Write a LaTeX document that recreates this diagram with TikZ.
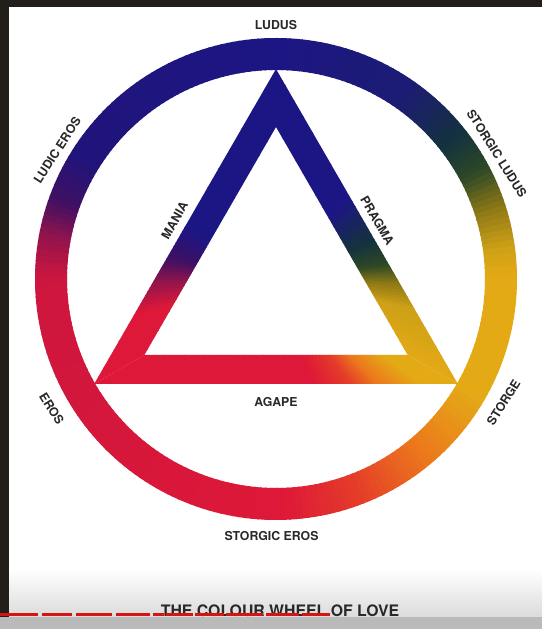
\documentclass[tikz,border=0pt]{standalone}
\usepackage{fontspec}
\setmainfont{TeX Gyre Heros}
\usetikzlibrary{calc,positioning}
\definecolor{ink}{RGB}{40,40,40}
\definecolor{edge}{RGB}{34,30,26}
\definecolor{ytred}{RGB}{214,20,20}
\definecolor{wblue}{RGB}{28,22,132}
\definecolor{wblueb}{RGB}{28,28,115}
\definecolor{wteal}{RGB}{20,50,62}
\definecolor{wgreen}{RGB}{45,72,38}
\definecolor{wolive}{RGB}{140,120,22}
\definecolor{wgold}{RGB}{205,160,22}
\definecolor{wyellow}{RGB}{228,170,22}
\definecolor{worange}{RGB}{236,120,28}
\definecolor{wredb}{RGB}{228,58,42}
\definecolor{wred}{RGB}{222,24,56}
\definecolor{wcrimson}{RGB}{205,22,62}
\definecolor{wplum}{RGB}{150,20,75}
\definecolor{wviolet}{RGB}{62,16,100}
\definecolor{wnavy}{RGB}{32,20,122}
% one side of the triangle, cut into slices: outer from/to, inner from/to, colour stops
\newcommand{\triband}[5]{%
  \foreach \sa/\sb/\ca/\cb in {#5}{%
    \foreach \i in {1,...,8}{%
      \pgfmathsetmacro\sfrom{\sa+(\sb-\sa)*(\i-1)/8}%
      \pgfmathsetmacro\sto{min(\sa+(\sb-\sa)*\i/8+0.004,1)}%
      \pgfmathtruncatemacro\pc{100*(\i-0.5)/8}%
      \fill[color=\cb!\pc!\ca] ($(#1)!\sfrom!(#2)$) -- ($(#1)!\sto!(#2)$) -- ($(#3)!\sto!(#4)$) -- ($(#3)!\sfrom!(#4)$) -- cycle;
    }}}

\begin{document}
\begin{tikzpicture}[x=0.03cm,y=0.03cm,
  lbl/.style={font=\fontsize{10.5}{12}\selectfont\bfseries,text=ink,inner sep=1pt},
  ringband/.style={line width=0.96cm}]
\useasboundingbox (0,0) rectangle (542,629);
\fill[white] (0,0) rectangle (542,629);
\fill[edge] (0,12) rectangle (9,629);
\fill[edge] (0,622) rectangle (542,629);
\coordinate (c) at (276,350);

% the ring
\foreach \a/\b/\ca/\cb in {90/55/wblue/wblueb, 55/38/wblueb/wteal, 38/28/wteal/wgreen, 28/18/wgreen/wolive,
    18/8/wolive/wgold, 8/0/wgold/wyellow, 0/-30/wyellow/wyellow, -30/-50/wyellow/worange,
    -50/-70/worange/wredb, -70/-88/wredb/wred, -88/-180/wred/wcrimson, -180/-190/wcrimson/wplum,
    -190/-200/wplum/wviolet, -200/-212/wviolet/wnavy, -212/-270/wnavy/wblue}{
  \pgfmathtruncatemacro\n{max(1,round(abs(\b-\a)/1.5))}
  \foreach \i in {1,...,\n}{
    \pgfmathsetmacro\tfrom{\a+(\b-\a)*(\i-1)/\n}
    \pgfmathsetmacro\tto{\a+(\b-\a)*\i/\n-0.4}
    \pgfmathtruncatemacro\pc{100*(\i-0.5)/\n}
    \draw[ringband,color=\cb!\pc!\ca] ($(c)+(\tfrom:225)$) arc[start angle=\tfrom,end angle=\tto,radius=225];
  }
}

% the triangle
\coordinate (ta) at ($(c)+(90:210)$);
\coordinate (tl) at ($(c)+(210:210)$);
\coordinate (tr) at ($(c)+(330:210)$);
\coordinate (ia) at ($(c)+(90:152)$);
\coordinate (il) at ($(c)+(210:152)$);
\coordinate (ir) at ($(c)+(330:152)$);
\triband{ta}{tl}{ia}{il}{0/0.5/wblue/wblue, 0.5/0.6/wblue/wviolet, 0.6/0.68/wviolet/wplum, 0.68/0.78/wplum/wred, 0.78/1/wred/wred}
\triband{ta}{tr}{ia}{ir}{0/0.4/wblue/wblue, 0.4/0.54/wblue/wteal, 0.54/0.62/wteal/wgreen, 0.62/0.68/wgreen/wolive, 0.68/0.76/wolive/wgold, 0.76/1/wgold/wyellow}
\triband{tl}{tr}{il}{ir}{0/0.6/wred/wred, 0.6/0.7/wred/wredb, 0.7/0.78/wredb/worange, 0.78/0.9/worange/wyellow, 0.9/1/wyellow/wyellow}

\node[lbl] (ludus) at ($(c)+(90:254)$) {LUDUS};
\node[lbl,rotate=57] (ludicEros) at ($(c)+(149.5:254)$) {LUDIC EROS};
\node[lbl,rotate=-58] (storgicLudus) at ($(c)+(29.6:254)$) {STORGIC LUDUS};
\node[lbl,rotate=-58] (eros) at ($(c)+(210:259)$) {EROS};
\node[lbl,rotate=58] (storge) at ($(c)+(-28.5:259)$) {STORGE};
\node[lbl] (storgicEros) at ($(c)+(-91:257)$) {STORGIC EROS};
\node[lbl,rotate=60] (mania) at ($(ta)!0.5!(tl)+(150:12)$) {MANIA};
\node[lbl,rotate=-60] (pragma) at ($(ta)!0.5!(tr)+(30:12)$) {PRAGMA};
\node[lbl] (agape) at ($(tl)!0.5!(tr)+(0,-18)$) {AGAPE};

\shade[top color=white,bottom color=black!14] (9,12) rectangle (542,60);
\node[font=\fontsize{13.5}{16}\selectfont\bfseries,text=ink] (title) at (280,18) {THE COLOUR WHEEL OF LOVE};
\fill[black!27] (0,0) rectangle (542,12);
\foreach \xa/\xb in {0/38, 42/72, 76/112, 116/150, 153/164, 166/193, 195/224, 226/263, 266/299, 302/330}
  \fill[ytred] (\xa,13) rectangle (\xb,16);
\end{tikzpicture}
\end{document}
